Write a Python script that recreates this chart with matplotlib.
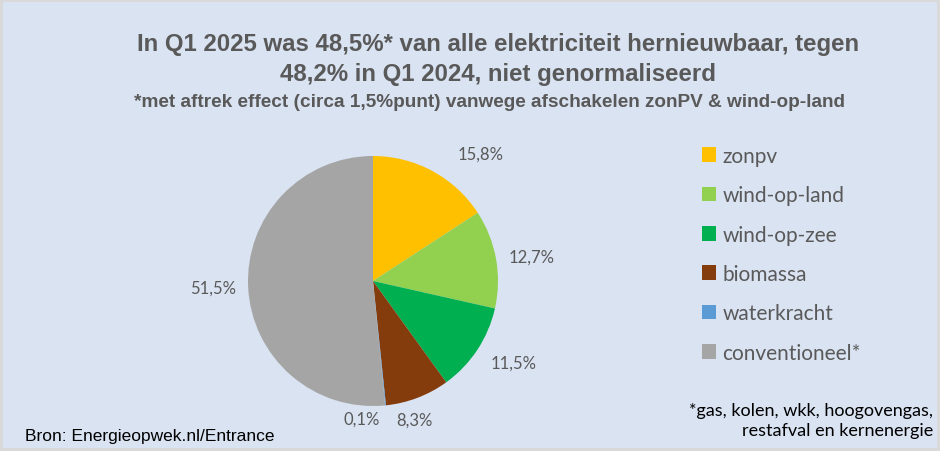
import matplotlib.pyplot as plt
import numpy as np

categories = ["zonpv", "wind-op-land", "wind-op-zee", "biomassa", "waterkracht", "conventioneel*"]
values = [15.8, 12.7, 11.5, 8.3, 0.1, 51.5]
value_labels = ["15,8%", "12,7%", "11,5%", "8,3%", "0,1%", "51,5%"]
colors = ["#ffc000", "#92d050", "#00b050", "#843c0c", "#5b9bd5", "#a5a5a5"]

title1 = "In Q1 2025 was 48,5%* van alle elektriciteit hernieuwbaar, tegen"
title2 = "48,2% in Q1 2024, niet genormaliseerd"
subtitle = "*met aftrek effect (circa 1,5%punt) vanwege afschakelen zonPV & wind-op-land"
source = "Bron: Energieopwek.nl/Entrance"
footnote = "*gas, kolen, wkk, hoogovengas,\nrestafval en kernenergie"

txt = "#595959"
label_font = ["Lato", "DejaVu Sans"]
title_font = ["Liberation Sans", "DejaVu Sans"]

W, H = 940, 452
fig = plt.figure(figsize=(W / 100, H / 100), dpi=100)
fig.patch.set_facecolor("#d9d9d9")
panel = plt.Rectangle((3 / W, 3 / H), 1 - 6 / W, 1 - 6 / H, transform=fig.transFigure,
                      facecolor="#dae3f2", edgecolor="none", zorder=-5)
fig.patches.append(panel)

# pie axes: centre ~(373, 282) px, radius ~125 px
r = 125
ax = fig.add_axes([(373 - r) / W, (H - 282 - r) / H, 2 * r / W, 2 * r / H])
ax.set_facecolor("none")
ax.set_zorder(2)
wedges, texts = ax.pie(values, colors=colors, startangle=90, counterclock=False,
                       labels=value_labels, labeldistance=1.1,
                       wedgeprops=dict(linewidth=0),
                       textprops=dict(color=txt, fontsize=12, family=label_font))
ax.set_xlim(-1, 1)
ax.set_ylim(-1, 1)
ax.set_aspect("equal")

# Excel moved a few labels to avoid overlaps (nudges in radius units)
nudge = [(0.15, 0.05), (0, 0), (0.02, -0.05), (-0.21, -0.08), (-0.35, -0.01), (0, 0)]
for t, (dx, dy) in zip(texts, nudge):
    x, y = t.get_position()
    t.set_position((x + dx, y + dy))

leg = fig.legend(wedges, categories, loc="upper left", bbox_to_anchor=(683 / W, 1 - 128 / H),
                 frameon=False, handlelength=0.7, handleheight=0.7, handletextpad=0.3,
                 labelspacing=0.93, prop=dict(family=label_font, size=15))
for t in leg.get_texts():
    t.set_color(txt)

fig.text(498 / W, 1 - 45 / H, title1, ha="center", va="center", color=txt,
         fontsize=17.3, fontweight="bold", family=title_font)
fig.text(498 / W, 1 - 75 / H, title2, ha="center", va="center", color=txt,
         fontsize=17.3, fontweight="bold", family=title_font)
fig.text(489 / W, 1 - 103 / H, subtitle, ha="center", va="center", color=txt,
         fontsize=13.7, fontweight="bold", family=title_font)
fig.text(25 / W, 1 - 437 / H, source, ha="left", va="center", color="#000000",
         fontsize=12.5, family=title_font)
fig.text(933 / W, 1 - 421 / H, footnote, ha="right", va="center", color="#000000",
         fontsize=13, family=label_font, linespacing=1.3, multialignment="right")

fig.savefig("out.png", dpi=100, facecolor=fig.get_facecolor())
